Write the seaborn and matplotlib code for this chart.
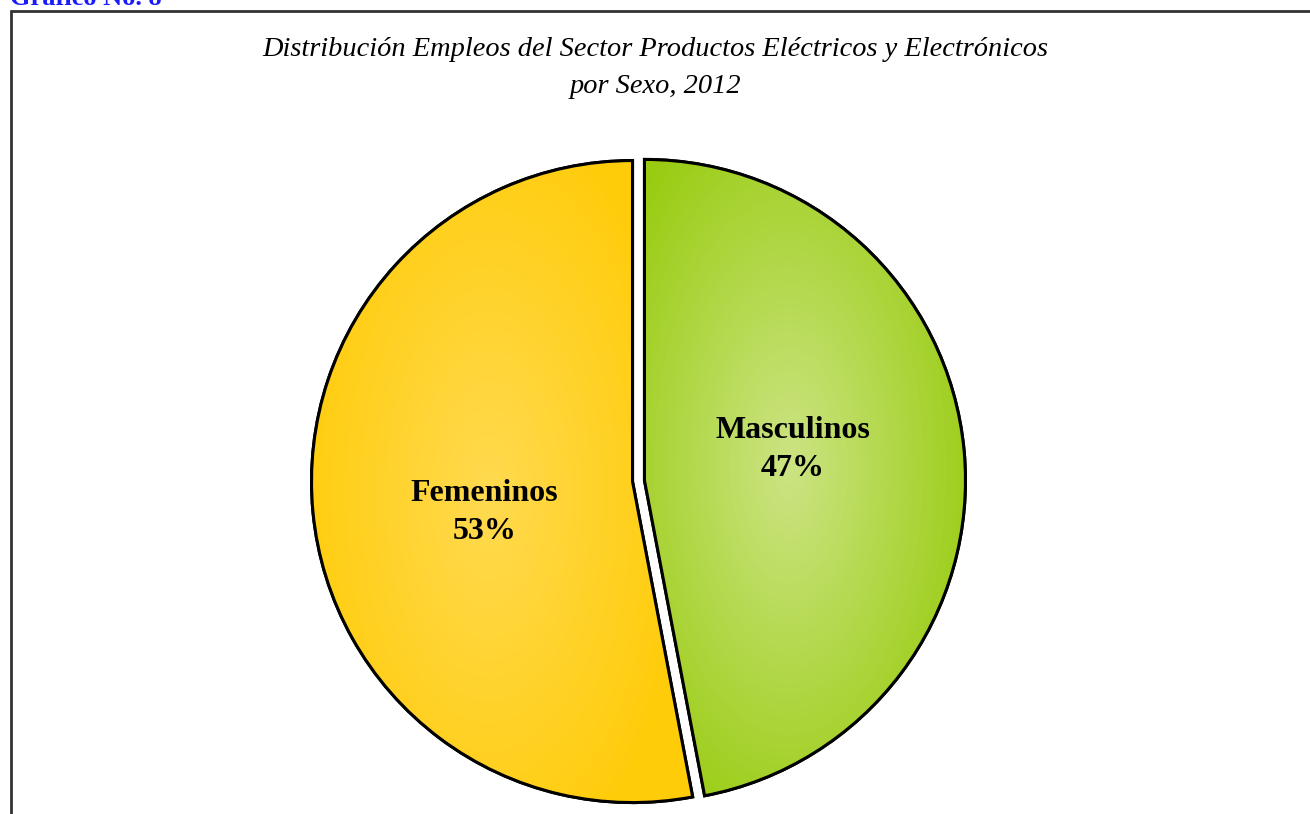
import numpy as np
import matplotlib
matplotlib.use("Agg")
import matplotlib.pyplot as plt
import matplotlib.patches as mpatches
from matplotlib.colors import LinearSegmentedColormap
import seaborn as sns

# Data
labels = ["Masculinos", "Femeninos"]
values = [47, 53]
edge_colors = ["#99CC11", "#FFCC0A"]
mid_colors = ["#CCE484", "#FFDA50"]
title = "Distribución Empleos del Sector Productos Eléctricos y Electrónicos\npor Sexo, 2012"

sns.set_theme(style="white")
plt.rcParams['font.family'] = ['Liberation Serif', 'DejaVu Serif']
plt.rcParams['text.color'] = 'black'

W, H = 1310, 814
fig = plt.figure(figsize=(W / 100, H / 100), dpi=100)
ax = fig.add_axes([0, 0, 1, 1])

cx, cy, R = 638.5, H - 481, 321
wedges, _ = ax.pie(values, startangle=90, counterclock=False,
                   colors=edge_colors, explode=[6, 6],
                   center=(cx, cy), radius=R, frame=True,
                   wedgeprops=dict(edgecolor="black", linewidth=2.2))
ax.set_xlim(0, W)
ax.set_ylim(0, H)
ax.set_aspect("equal")
ax.axis("off")

# soft gradient inside each wedge, lighter toward the middle
yy, xx = np.mgrid[0:H, 0:W]
for w, lab, v, c0, c1 in zip(wedges, labels, values, edge_colors, mid_colors):
    th = np.deg2rad((w.theta1 + w.theta2) / 2)
    wx, wy = w.center
    gx, gy = wx + 0.45 * R * np.cos(th), wy + 0.45 * R * np.sin(th)
    d = np.sqrt((xx - gx) ** 2 + ((yy - gy) / 2.0) ** 2)
    d = np.clip(d / 200, 0, 1)
    cmap = LinearSegmentedColormap.from_list("g", [c1, c0])
    im = ax.imshow(d, cmap=cmap, extent=(0, W, 0, H), origin="lower",
                   zorder=1.5, interpolation="bilinear")
    im.set_clip_path(w)
    w.set_zorder(1)
    outline = mpatches.Wedge(w.center, R, w.theta1, w.theta2, fill=False,
                             edgecolor="black", linewidth=2.2, zorder=2)
    ax.add_patch(outline)
    # label
    la = th + np.deg2rad(6.4)
    tx, ty = wx + 0.471 * R * np.cos(la), wy + 0.471 * R * np.sin(la)
    ax.text(tx, ty, f"{lab}\n{v}%", ha="center", va="center",
            fontsize=23, fontweight="bold", linespacing=1.45, zorder=3)

ax.set_xlim(0, W)
ax.set_ylim(0, H)

fig.text(0.5, 1 - 68 / H, title, ha="center", va="center",
         fontsize=20.4, fontstyle="italic", linespacing=1.6)

# outer frame
fig.patches.append(mpatches.Rectangle((11 / W, -0.01), 1.1, 1 - 11 / H + 0.01,
                                      transform=fig.transFigure, fill=False,
                                      edgecolor="#333333", linewidth=2))
fig.text(10 / W, 1 - 5 / H, "Gráfico No. 8", color="#1A1AFF",
         fontsize=19, fontweight="bold", ha="left", va="baseline")

fig.savefig("out.png", dpi=100)
